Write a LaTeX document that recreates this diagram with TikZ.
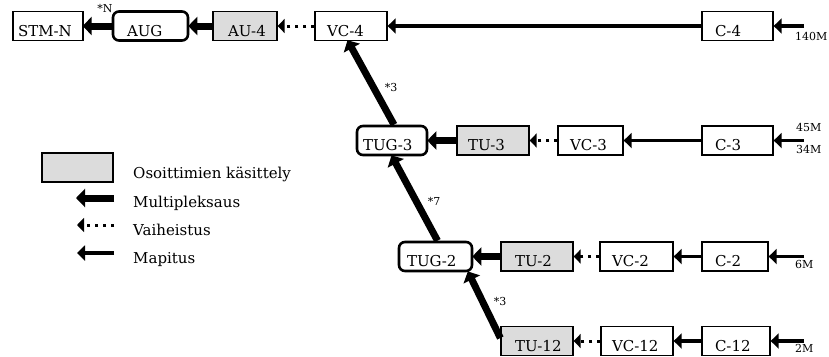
\documentclass[tikz,border=0pt]{standalone}
\usepackage{fontspec}
\setmainfont{DejaVu Serif}
\usetikzlibrary{arrows.meta,calc}
\definecolor{ptrgray}{HTML}{DCDCDC}
\newcommand\lpad[1]{\hspace*{#1pt}}
\tikzset{
  every node/.style={font=\fontsize{15}{17}\selectfont},
  blk/.style={draw, line width=1.3pt, minimum height=29pt, inner ysep=0pt,
     inner xsep=0pt, text height=20pt, text depth=0pt, align=left},
  ptr/.style={blk, fill=ptrgray},
  grp/.style={blk, line width=2.6pt, rounded corners=6pt},
  mux/.style={line width=7pt, -{Triangle[length=9pt,width=18pt]}, shorten >=-1pt},
  phs/.style={line width=3pt, dash pattern=on 3pt off 5pt, -{Triangle[length=7pt,width=14pt]}},
  mapp/.style={line width=3.2pt, -{Triangle[length=8pt,width=15pt]}},
  small/.style={font=\fontsize{11}{12}\selectfont, inner sep=0pt},
  legtxt/.style={anchor=base west, inner sep=0pt},
}
\begin{document}
\begin{tikzpicture}[x=1pt,y=-1pt]
\useasboundingbox (0,0) rectangle (829,356);
% top row
\node[blk, text width=70pt] (STMN) at (48,26) {\lpad{5}STM-N};
\node[grp, text width=75pt] (AUG) at (150.5,26) {\lpad{14}AUG};
\node[ptr, text width=64pt] (AU4) at (245,26) {\lpad{15}AU-4};
\node[blk, text width=72pt] (VC4) at (351,26) {\lpad{12}VC-4};
\node[blk, text width=71pt] (C4) at (737.5,26) {\lpad{13}C-4};
% TUG-3 row
\node[grp, text width=70pt] (TUG3) at (392,140.5) {\lpad{6}TUG-3};
\node[ptr, text width=72pt] (TU3) at (493,140.5) {\lpad{11}TU-3};
\node[blk, text width=65pt] (VC3) at (590.5,140.5) {\lpad{12}VC-3};
\node[blk, text width=71pt] (C3) at (737.5,140.5) {\lpad{13}C-3};
% TUG-2 row
\node[grp, text width=73pt] (TUG2) at (435.5,256.5) {\lpad{8}TUG-2};
\node[ptr, text width=72pt] (TU2) at (537,256.5) {\lpad{14}TU-2};
\node[blk, text width=73pt] (VC2) at (636.5,256.5) {\lpad{12}VC-2};
\node[blk, text width=66pt] (C2) at (735,256.5) {\lpad{13}C-2};
% TU-12 row
\node[ptr, text width=72pt] (TU12) at (537,341) {\lpad{14}TU-12};
\node[blk, text width=72pt] (VC12) at (637,341) {\lpad{11}VC-12};
\node[blk, text width=68pt] (C12) at (736,341) {\lpad{13}C-12};
% inputs
\coordinate (in4) at (804,26);
\coordinate (in3) at (804,140.5);
\coordinate (in2) at (804,256.5);
\coordinate (in12) at (804,341);
\node[small, anchor=base west] (l140) at (795,40) {140M};
\node[small, anchor=base west] (l45) at (796,131) {45M};
\node[small, anchor=base west] (l34) at (796,153) {34M};
\node[small, anchor=base west] (l6) at (795,268) {6M};
\node[small, anchor=base west] (l2) at (795,352) {2M};
% mapping
\draw[mapp] (in4) -- (C4);
\draw[mapp] (C4) -- (VC4);
\draw[mapp] (in3) -- (C3);
\draw[mapp] (C3) -- (VC3);
\draw[mapp] (in2) -- (C2);
\draw[mapp] (C2) -- (VC2);
\draw[mapp] (in12) -- (C12);
\draw[mapp] (C12) -- (VC12);
% phase
\draw[phs] (VC4) -- (AU4);
\draw[phs] (VC3) -- (TU3);
\draw[phs] (VC2) -- (TU2);
\draw[phs] (VC12) -- (TU12);
% multiplex
\draw[mux] (AU4) -- (AUG);
\draw[mux] (AUG) -- (STMN);
\draw[mux] (TU3) -- (TUG3);
\draw[mux] (TU2) -- (TUG2);
\draw[mux] ([yshift=3pt]TU12.west) -- ([xshift=-5pt]TUG2.south east);
\draw[mux] ([xshift=2pt]TUG2.north) -- (TUG3.south);
\draw[mux] ([xshift=2pt]TUG3.north) -- ([xshift=-3pt]VC4.south);
% factors
\node[small] (fN) at (105,8) {*N};
\node[small] (f3a) at (391,87) {*3};
\node[small] (f7) at (434,201) {*7};
\node[small] (f3b) at (500,301) {*3};
% legend
\node[ptr, text width=71pt] (lg) at (77.5,167.5) {};
\node[legtxt] (lgt) at (133,178) {Osoittimien käsittely};
\coordinate (m1) at (114,198);
\coordinate (m2) at (77,198);
\draw[mux] (m1) -- (m2);
\node[legtxt] (mt) at (133,207) {Multipleksaus};
\coordinate (p1) at (114,225);
\coordinate (p2) at (77,225);
\draw[phs] (p1) -- (p2);
\node[legtxt] (pt) at (133,235) {Vaiheistus};
\coordinate (q1) at (114,253);
\coordinate (q2) at (77,253);
\draw[mapp] (q1) -- (q2);
\node[legtxt] (qt) at (133,263) {Mapitus};
\end{tikzpicture}
\end{document}
